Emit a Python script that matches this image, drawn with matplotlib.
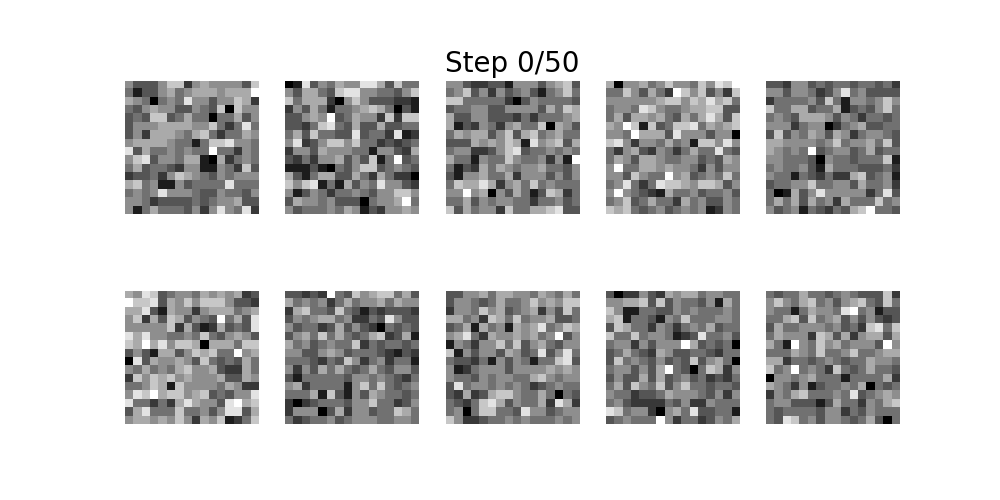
import numpy as np
import matplotlib
matplotlib.use("Agg")
import matplotlib.pyplot as plt

# Grey levels (0 = black, 9 = white), 16x16 per image
img1 = ["5333577256555537", "4133564566656669", "6540454855355762", "4356553354370755",
        "3437734644044635", "3555666655742484", "3526665467424465", "5666654414778554",
        "8364454544944254", "5783554661062454", "4634432551154273", "2334257654354555",
        "6745115344448444", "4545855543354435", "5542333343455633", "5146444352585482"]
img2 = ["0183546558863744", "5366437885544357", "7466620575333221", "2536414456764031",
        "3356593465527277", "3324784363363344", "4637443383442812", "5823577574423234",
        "2553655544155326", "3242556353714934", "1113104357734543", "6314663364264220",
        "7578141635485532", "5135424454355775", "3655453330455694", "5344454651325565"]
img3 = ["5532233155535673", "4573525345314574", "7744444203544443", "3445533555536476",
        "6335533324244456", "6132542564470653", "4656635736745644", "3336565761856736",
        "4552235783445454", "6441544754452519", "4132646545564435", "3155644625553535",
        "4766862564745444", "5595605364137624", "4463545544244534", "7364552744667833"]
img4 = ["6055645755475879", "4475364297573527", "5555556775768674", "4554875445667733",
        "4636656436468637", "6597173477846567", "5549666385553550", "7852554645177585",
        "4256325424644843", "4653665445534365", "5944665655425355", "5537544956345474",
        "4584248776577635", "5954321644534453", "4573464426453354", "7674345345451254"]
img5 = ["3325534344344342", "5535542358453333", "2444453741554575", "7446634461343574",
        "4543666535424434", "5552455024563344", "3735465365245543", "6655554574556473",
        "6545493455346344", "5544430544344471", "4544531644433342", "5441432422673451",
        "3445574455364452", "4016358555552483", "4646364526444745", "5345143243679443"]
img6 = ["6587345546565623", "9778365757775332", "6683165525666456", "5726376354394638",
        "5555572631263438", "8685544547435653", "7696857760666477", "3531663576744956",
        "0836556537434364", "5464546755632264", "2757675655563365", "4457617555546522",
        "5879677567343558", "8442426865538967", "3684447445358836", "5665657526571247"]
img7 = ["3323294375677463", "6454524645564655", "2674437431323332", "3545664522438533",
        "5344236353204343", "3564746434672361", "6453454472434434", "5533565344432132",
        "4443243752452441", "5253646434643553", "3144444355454324", "5624444157474345",
        "4446173153654434", "2023444355744235", "2555036255344764", "4234453455544554"]
img8 = ["3355646655465464", "3554346445756577", "2554756345625374", "6645276474556334",
        "3461645165684576", "5684265565645935", "1542557473564355", "7153553653483584",
        "4332415354144783", "5124555355556565", "5443545544675455", "3845545454234544",
        "3262367754464043", "4324786354462862", "4504774438553455", "7522344545444545"]
img9 = ["3022532656645544", "5566737354435164", "7511443354544454", "6714431547444554",
        "3764425424546344", "7447455412384453", "4552535559634340", "3464326533443244",
        "3745435343735640", "4553536943047625", "3533636345342324", "4637547357443443",
        "5442334655543525", "4532222435225444", "8745520564833441", "3454449524423546"]
img10 = ["4344644345433372", "5754674535674374", "5441465548945133", "4467374563535323",
         "3644555453427847", "4655527636256636", "6419547564555395", "4446547445744566",
         "6624434543446554", "7459454274346443", "0554564441444462", "6542513445460434",
         "2546744454834565", "4553331364425467", "4344443552435444", "4387453554346304"]

images = [img1, img2, img3, img4, img5, img6, img7, img8, img9, img10]
title_text = "Step 0/50"

fig, axs = plt.subplots(2, 5, figsize=(10, 5), dpi=100)
for ax, rows in zip(axs.flat, images):
    arr = np.array([[int(c) for c in r] for r in rows], dtype=float)
    ax.imshow(arr, cmap="gray", vmin=0, vmax=9, interpolation="nearest")
    ax.axis("off")
axs[0, 2].set_title(title_text, fontsize=20)

fig.savefig("out.png", dpi=100)
